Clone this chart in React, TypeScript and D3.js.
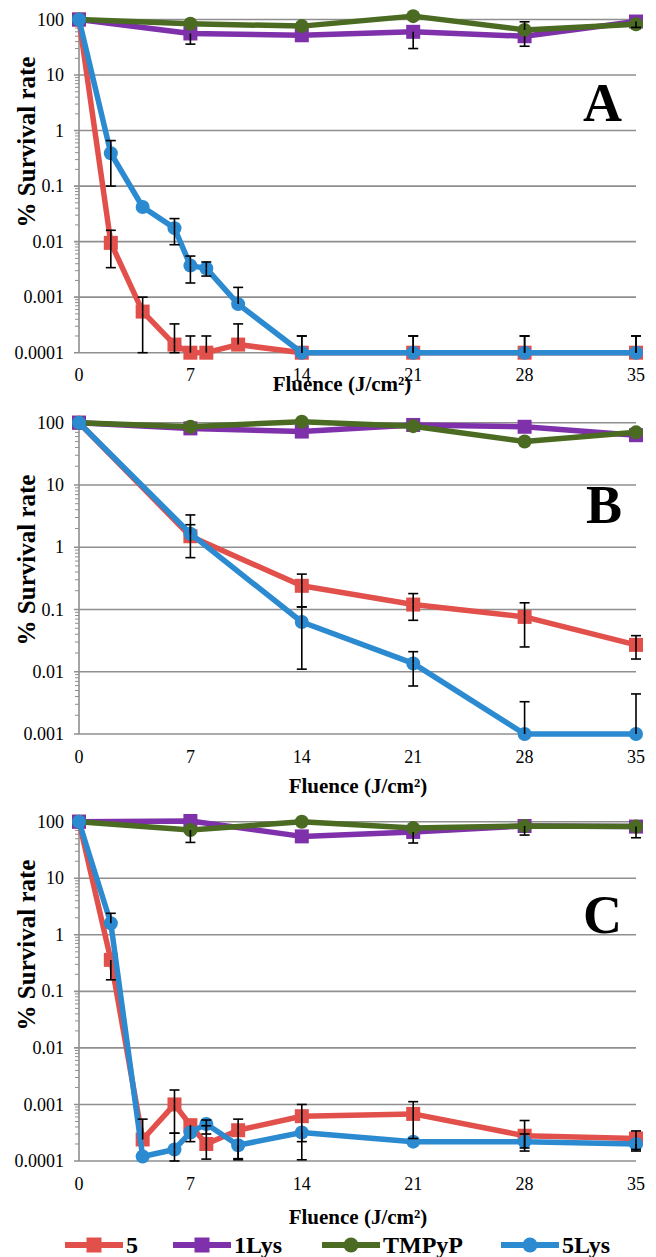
import React from "react";
import * as d3 from "d3";

type Pt = [number, number, number | null, number | null];

const X_TICKS = [0, 7, 14, 21, 28, 35];
const SERIES_NAMES = ["5", "1Lys", "TMPyP", "5Lys"];
const SERIES_COLORS = ["#E2504C", "#7E31AA", "#4B6B22", "#2B8AD0"];
const SERIES_SHAPES = ["square", "square", "circle", "circle"];

// Panel A  [fluence, % survival, error low, error high]
const A_5: Pt[] = [
  [0, 100, null, null], [2, 0.0095, 0.0034, 0.016], [4, 0.00055, 0.0001, 0.001],
  [6, 0.00014, 0.0001, 0.00033], [7, 0.0001, null, 0.0002], [8, 0.0001, null, 0.0002],
  [10, 0.00014, null, 0.00033], [14, 0.0001, null, 0.0002], [21, 0.0001, null, 0.0002],
  [28, 0.0001, null, 0.0002], [35, 0.0001, null, 0.0002],
];
const A_1LYS: Pt[] = [
  [0, 100, null, null], [7, 56, 36, null], [14, 52, null, null], [21, 60, 30, null],
  [28, 50, 33, null], [35, 92, 72, null],
];
const A_TMPYP: Pt[] = [
  [0, 100, null, null], [7, 84, null, null], [14, 76, null, null], [21, 115, null, null],
  [28, 65, null, 91], [35, 82, null, null],
];
const A_5LYS: Pt[] = [
  [0, 100, null, null], [2, 0.39, 0.1, 0.66], [4, 0.042, null, null], [6, 0.0175, 0.0088, 0.026],
  [7, 0.0037, 0.0018, 0.0055], [8, 0.0033, 0.0024, 0.0043], [10, 0.00075, null, 0.0015],
  [14, 0.0001, null, 0.0002], [21, 0.0001, null, 0.0002], [28, 0.0001, null, 0.0002],
  [35, 0.0001, null, 0.0002],
];

// Panel B
const B_5: Pt[] = [
  [0, 100, null, null], [7, 1.5, 0.68, 2.3], [14, 0.24, 0.11, 0.37], [21, 0.12, 0.067, 0.18],
  [28, 0.076, 0.025, 0.128], [35, 0.027, 0.016, 0.038],
];
const B_1LYS: Pt[] = [
  [0, 100, null, null], [7, 81, null, null], [14, 72, null, null], [21, 92, null, null],
  [28, 86, null, null], [35, 63, null, null],
];
const B_TMPYP: Pt[] = [
  [0, 100, null, null], [7, 86, null, null], [14, 104, null, null], [21, 88, null, null],
  [28, 50, null, null], [35, 70, null, null],
];
const B_5LYS: Pt[] = [
  [0, 100, null, null], [7, 1.65, null, 3.3], [14, 0.063, 0.011, 0.11], [21, 0.0136, 0.0059, 0.021],
  [28, 0.001, null, 0.0033], [35, 0.001, null, 0.0044],
];

// Panel C
const C_5: Pt[] = [
  [0, 100, null, null], [2, 0.36, 0.16, null], [4, 0.00024, null, 0.00055], [6, 0.001, 0.00031, 0.0018],
  [7, 0.00043, 0.00022, null], [8, 0.0002, 0.000108, 0.00042], [10, 0.00035, 0.00011, 0.00055],
  [14, 0.00062, 0.00022, 0.001], [21, 0.00068, 0.00025, 0.00112], [28, 0.00028, 0.00015, 0.00052],
  [35, 0.00025, 0.00016, 0.00034],
];
const C_1LYS: Pt[] = [
  [0, 100, null, null], [7, 103, null, null], [14, 55, null, null], [21, 66, 42, null],
  [28, 84, 58, null], [35, 82, 52, null],
];
const C_TMPYP: Pt[] = [
  [0, 100, null, null], [7, 71, 43, null], [14, 100, null, null], [21, 77, null, null],
  [28, 84, null, null], [35, 82, null, null],
];
const C_5LYS: Pt[] = [
  [0, 100, null, null], [2, 1.6, null, 2.4], [4, 0.00012, null, null], [6, 0.00016, 0.0001, 0.00031],
  [7, 0.00032, null, null], [8, 0.00045, 0.0003, 0.00053], [10, 0.00019, 0.000105, null],
  [14, 0.00032, 0.000105, null], [21, 0.00022, null, null], [28, 0.00022, 0.00017, 0.0003],
  [35, 0.0002, 0.00015, null],
];

const PANEL_LABELS = ["A", "B", "C"];
const PANEL_YMIN = [1e-4, 1e-3, 1e-4];
const PANEL_YTICKS = [
  ["0.0001", "0.001", "0.01", "0.1", "1", "10", "100"],
  ["0.001", "0.01", "0.1", "1", "10", "100"],
  ["0.0001", "0.001", "0.01", "0.1", "1", "10", "100"],
];
const PANEL_DATA = [
  [A_5, A_1LYS, A_TMPYP, A_5LYS],
  [B_5, B_1LYS, B_TMPYP, B_5LYS],
  [C_5, C_1LYS, C_TMPYP, C_5LYS],
];

// layout
const W = 656;
const H = 1257;
const X0 = 79;
const X1 = 636;
const PANELS = [
  { top: 19.5, bottom: 352.7, tickBase: 381, titleBase: 391, titleX: 342, yTitleY: 142, letterBase: 121 },
  { top: 422.7, bottom: 734, tickBase: 763, titleBase: 793, titleX: 358, yTitleY: 560, letterBase: 523 },
  { top: 821.7, bottom: 1161, tickBase: 1190, titleBase: 1224, titleX: 358, yTitleY: 945, letterBase: 933 },
];
const FONT = '"Liberation Serif", "DejaVu Serif", serif';
const GRID = "#8f8f8f";

function Marker({ shape, x, y, color, size }: { shape: string; x: number; y: number; color: string; size: number }) {
  if (shape === "square")
    return <rect x={x - size / 2} y={y - size / 2} width={size} height={size} fill={color} />;
  return <circle cx={x} cy={y} r={size / 2} fill={color} />;
}

function Panel({ idx }: { idx: number }) {
  const p = PANELS[idx];
  const x = d3.scaleLinear().domain([0, 35]).range([X0, X1]);
  const y = d3.scaleLog().domain([PANEL_YMIN[idx], 100]).range([p.bottom, p.top]);
  const majors = PANEL_YTICKS[idx].map(Number);
  const minors: number[] = [];
  majors.slice(0, -1).forEach((m) => {
    for (let k = 2; k <= 9; k++) minors.push(m * k);
  });
  const line = d3
    .line<Pt>()
    .x((d) => x(d[0]))
    .y((d) => y(d[1]));
  const data = PANEL_DATA[idx];
  const clampY = (v: number) => y(Math.max(PANEL_YMIN[idx], v));
  const txt = { fontFamily: FONT };
  return (
    <g>
      {majors.map((m, i) => (
        <g key={"g" + i}>
          <line x1={X0 - 5} x2={X1} y1={y(m)} y2={y(m)} stroke={GRID} strokeWidth={1.6} />
          <text x={64} y={y(m)} dy="0.34em" textAnchor="end" style={{ ...txt, fontSize: 18 }}>
            {PANEL_YTICKS[idx][i]}
          </text>
        </g>
      ))}
      {minors.map((m, i) => (
        <line key={"m" + i} x1={X0 - 4} x2={X0} y1={y(m)} y2={y(m)} stroke={GRID} strokeWidth={1} />
      ))}
      <line x1={X0} x2={X0} y1={p.top} y2={p.bottom} stroke={GRID} strokeWidth={1.6} />
      {X_TICKS.map((t) => (
        <text key={"x" + t} x={x(t)} y={p.tickBase} textAnchor="middle" style={{ ...txt, fontSize: 18 }}>
          {t}
        </text>
      ))}
      <text x={p.titleX} y={p.titleBase} textAnchor="middle" style={{ ...txt, fontSize: 21, fontWeight: "bold" }}>
        Fluence (J/cm²)
      </text>
      <text
        transform={`translate(35,${p.yTitleY}) rotate(-90)`}
        textAnchor="middle"
        style={{ ...txt, fontSize: 25, fontWeight: "bold" }}
      >
        % Survival rate
      </text>
      <text x={622} y={p.letterBase} textAnchor="end" style={{ ...txt, fontSize: 54, fontWeight: "bold" }}>
        {PANEL_LABELS[idx]}
      </text>
      {data.map((s, si) => (
        <g key={"s" + si}>
          <path d={line(s) || ""} fill="none" stroke={SERIES_COLORS[si]} strokeWidth={5.5} strokeLinejoin="round" />
          {s.map((d, di) => (
            <Marker key={di} shape={SERIES_SHAPES[si]} x={x(d[0])} y={y(d[1])} color={SERIES_COLORS[si]} size={14} />
          ))}
        </g>
      ))}
      {data.map((s, si) =>
        s.map((d, di) => {
          const cx = x(d[0]);
          const parts: JSX.Element[] = [];
          if (d[3] !== null) {
            const yh = clampY(d[3]);
            parts.push(<line key="hu" x1={cx} x2={cx} y1={y(d[1])} y2={yh} stroke="#000" strokeWidth={1.6} />);
            parts.push(<line key="hc" x1={cx - 5} x2={cx + 5} y1={yh} y2={yh} stroke="#000" strokeWidth={1.6} />);
          }
          if (d[2] !== null) {
            const yl = clampY(d[2]);
            parts.push(<line key="lu" x1={cx} x2={cx} y1={y(d[1])} y2={yl} stroke="#000" strokeWidth={1.6} />);
            parts.push(<line key="lc" x1={cx - 5} x2={cx + 5} y1={yl} y2={yl} stroke="#000" strokeWidth={1.6} />);
          }
          return <g key={"e" + si + "_" + di}>{parts}</g>;
        })
      )}
    </g>
  );
}

const LEGEND_X = [65, 173, 322, 501];

export default function App() {
  return (
    <svg width={W} height={H} style={{ position: "absolute", left: 0, top: 0, background: "#fff" }}>
      <rect width={W} height={H} fill="#fff" />
      {[0, 1, 2].map((i) => (
        <Panel key={i} idx={i} />
      ))}
      {SERIES_NAMES.map((n, i) => (
        <g key={n}>
          <line x1={LEGEND_X[i]} x2={LEGEND_X[i] + 58} y1={1245} y2={1245} stroke={SERIES_COLORS[i]} strokeWidth={6} />
          <Marker shape={SERIES_SHAPES[i]} x={LEGEND_X[i] + 29} y={1245} color={SERIES_COLORS[i]} size={15} />
          <text x={LEGEND_X[i] + 61} y={1253} style={{ fontFamily: FONT, fontSize: 24, fontWeight: "bold" }}>
            {n}
          </text>
        </g>
      ))}
    </svg>
  );
}
